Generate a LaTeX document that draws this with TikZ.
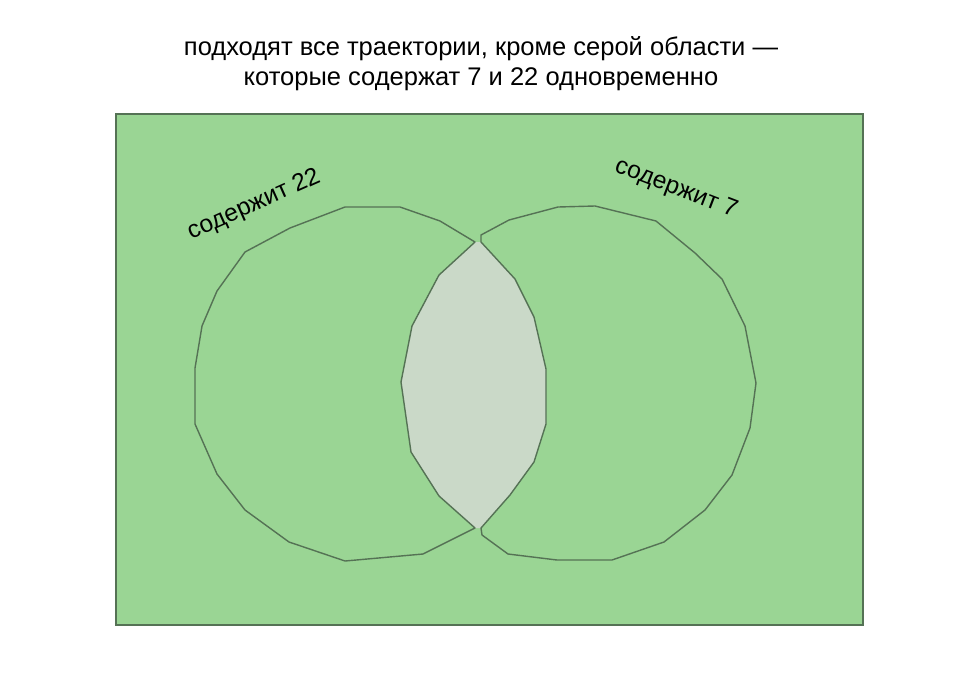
\documentclass[tikz,border=0pt]{standalone}
\usepackage{fontspec}
\setmainfont{Liberation Sans}
\usepackage{tikz}
\usetikzlibrary{positioning}

\definecolor{fieldgreen}{HTML}{9AD594}
\definecolor{edgegreen}{HTML}{557255}
\definecolor{lensgray}{HTML}{CAD9C8}

\tikzset{
  crescent/.style={draw=edgegreen, line width=1.4pt, line join=round},
  setlabel/.style={font=\fontsize{24.5}{28}\selectfont, inner sep=0pt}
}

\begin{document}
\begin{tikzpicture}[x=1pt,y=-1pt]
\useasboundingbox (0,0) rectangle (960,678);

\node[align=center, inner sep=0pt, font=\fontsize{25.5}{30}\selectfont] (title) at (481,64)
  {подходят все траектории, кроме серой области —\\которые содержат 7 и 22 одновременно};

\node[rectangle, draw=edgegreen, line width=1.5pt, fill=fieldgreen,
    minimum width = 747pt, minimum height = 511pt] (field) at (489.5,369.5) {};

% gray lens: both sets at once
\fill[lensgray] (475,242) -- (439,275) -- (412,326) -- (401,382) -- (411,452)
  -- (439,496) -- (475,528) -- (481,528) -- (510,495) -- (534,462) -- (546,424)
  -- (546,369) -- (534,317) -- (515,279) -- (481,242) -- cycle;

% left set
\draw[crescent] (475,242) -- (440,221) -- (400,207) -- (345,207) -- (290,228)
  -- (245,252) -- (217,291) -- (202,326) -- (195,368) -- (195,424) -- (217,474)
  -- (245,510) -- (289,542) -- (345,561) -- (423,554) -- (475,528)
  -- (439,496) -- (411,452) -- (401,382) -- (412,326) -- (439,275) -- cycle;

% right set
\draw[crescent] (481,242) -- (481,235) -- (509,220) -- (558,207) -- (595,206)
  -- (656,221) -- (695,253) -- (722,279) -- (745,326) -- (756,383) -- (750,428)
  -- (732,475) -- (705,510) -- (664,542) -- (612,560) -- (557,560) -- (508,554)
  -- (482,535) -- (481,528) -- (510,495) -- (534,462) -- (546,424) -- (546,369)
  -- (534,317) -- (515,279) -- cycle;

\node[setlabel, rotate=24] (has22) at (254,205) {содержит 22};
\node[setlabel, rotate=-21] (has7) at (676,189) {содержит 7};
\end{tikzpicture}
\end{document}
